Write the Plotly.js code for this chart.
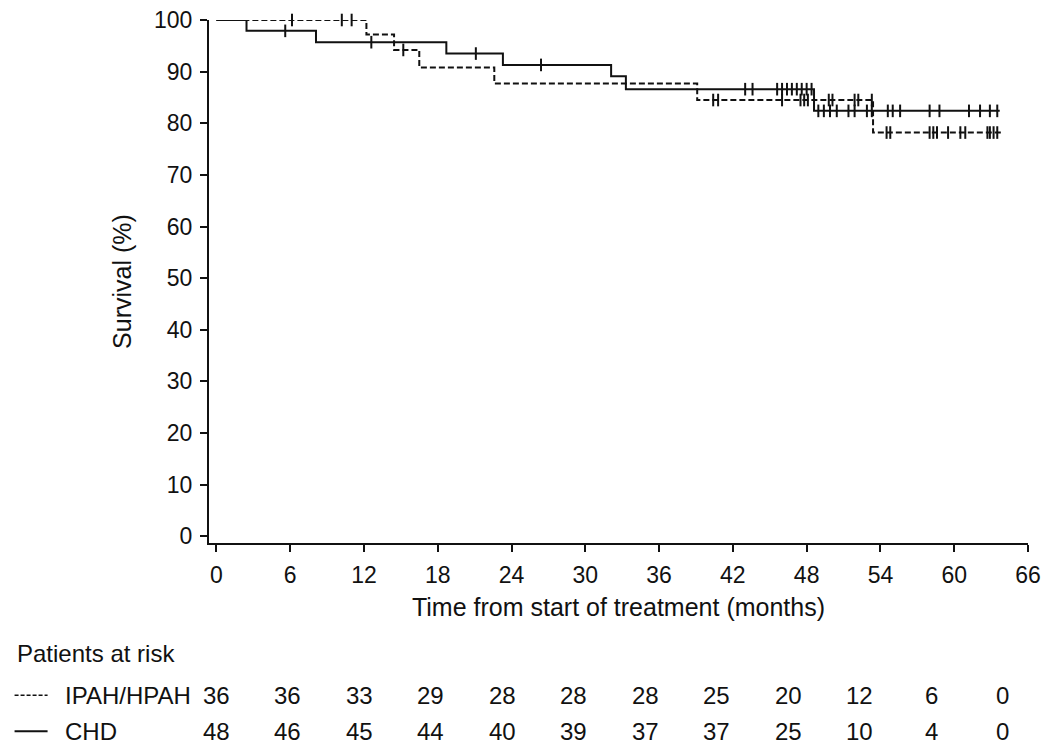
<!DOCTYPE html>
<html>
<head>
<meta charset="utf-8">
<script src="https://cdn.plot.ly/plotly-3.0.1.min.js"></script>
<style>
  html, body { margin: 0; padding: 0; background: #fff; }
  #chart { width: 1050px; height: 750px; }
</style>
</head>
<body>
<div id="chart"></div>
<script>
(function () {
  "use strict";

  // Kaplan-Meier steps (months, survival %)
  var ipahTime = [0, 12.2, 14.45, 16.5, 22.6, 39.1, 53.4, 63.8];
  var ipahSurv = [100, 97.2, 94.2, 90.8, 87.7, 84.5, 78.2, 78.2];
  var ipahCensored = [6.15, 10.2, 11.0, 15.2, 40.4, 40.8, 46.0, 47.5, 47.8, 48.1, 49.8, 50.1, 51.9, 52.2, 53.3,
    54.5, 54.8, 58.0, 58.3, 58.6, 59.5, 60.5, 60.9, 62.7, 62.9, 63.2, 63.5];

  var chdTime = [0, 2.45, 8.1, 18.7, 23.3, 32.1, 33.3, 48.6, 63.7];
  var chdSurv = [100, 97.9, 95.7, 93.5, 91.3, 89.1, 86.6, 82.4, 82.4];
  var chdCensored = [5.6, 12.6, 21.1, 26.4, 43.0, 43.6, 45.6, 46.0, 46.4, 46.8, 47.2, 47.6, 48.0, 48.4,
    48.95, 49.4, 49.9, 50.45, 51.4, 51.9, 52.9, 53.3, 54.6, 55.0, 55.6, 58.0, 58.8, 61.2, 62.1, 62.9, 63.5];

  // patients at risk table
  var riskTimes = [0, 6, 12, 18, 24, 30, 36, 42, 48, 54, 60, 66];
  var riskIpah = [36, 36, 33, 29, 28, 28, 28, 25, 20, 12, 6, 0];
  var riskChd = [48, 46, 45, 44, 40, 39, 37, 37, 25, 10, 4, 0];

  var ink = "#111111";
  var font = "Liberation Sans, Arial, Helvetica, sans-serif";

  function survAt(times, surv, t) {
    var s = surv[0];
    for (var i = 0; i < times.length; i++) if (times[i] <= t) s = surv[i];
    return s;
  }

  var traces = [
    { name: "IPAH/HPAH", x: ipahTime, y: ipahSurv, mode: "lines", line: { shape: "hv", color: ink, width: 2, dash: "6px,3px" }, cliponaxis: false },
    { name: "IPAH/HPAH censored", x: ipahCensored, y: ipahCensored.map(function (t) { return survAt(ipahTime, ipahSurv, t); }),
      mode: "markers", marker: { symbol: "line-ns-open", size: 9, color: ink, line: { width: 2, color: ink } }, cliponaxis: false },
    { name: "CHD", x: chdTime, y: chdSurv, mode: "lines", line: { shape: "hv", color: ink, width: 2 }, cliponaxis: false },
    { name: "CHD censored", x: chdCensored, y: chdCensored.map(function (t) { return survAt(chdTime, chdSurv, t); }),
      mode: "markers", marker: { symbol: "line-ns-open", size: 9, color: ink, line: { width: 2, color: ink } }, cliponaxis: false }
  ];

  var rowY = { head: -0.212, ipah: -0.291, chd: -0.36 };
  var annotations = [
    { text: "Patients at risk", xref: "paper", yref: "paper", x: -0.2374, y: rowY.head, xanchor: "left", yanchor: "middle", showarrow: false },
    { text: "IPAH/HPAH", xref: "paper", yref: "paper", x: -0.1788, y: rowY.ipah, xanchor: "left", yanchor: "middle", showarrow: false },
    { text: "CHD", xref: "paper", yref: "paper", x: -0.1788, y: rowY.chd, xanchor: "left", yanchor: "middle", showarrow: false }
  ];
  riskTimes.forEach(function (t, i) {
    annotations.push({ text: String(riskIpah[i]), xref: "x2", yref: "paper", x: t, y: rowY.ipah, showarrow: false, yanchor: "middle" });
    annotations.push({ text: String(riskChd[i]), xref: "x2", yref: "paper", x: t, y: rowY.chd, showarrow: false, yanchor: "middle" });
  });
  annotations.forEach(function (a) { a.font = { size: 24, color: ink, family: font }; });

  var axisCommon = {
    showgrid: false, zeroline: false, showline: true, linecolor: ink, linewidth: 2,
    ticks: "outside", ticklen: 7, tickwidth: 2, tickcolor: ink,
    tickfont: { size: 23, color: ink, family: font }, fixedrange: true
  };

  var layout = {
    width: 1050, height: 750,
    margin: { l: 209, r: 22, t: 20, b: 207 },
    paper_bgcolor: "#fff", plot_bgcolor: "#fff",
    showlegend: false,
    font: { family: font, color: ink },
    xaxis: Object.assign({}, axisCommon, {
      range: [-0.6, 66], tickvals: riskTimes, ticklabelstandoff: 3,
      title: { text: "Time from start of treatment (months)", font: { size: 25, color: ink, family: font }, standoff: 12 }
    }),
    xaxis2: { overlaying: "x", range: [-0.62, 68.1], visible: false, fixedrange: true },
    yaxis: Object.assign({}, axisCommon, {
      range: [-1.3, 100], dtick: 10, tick0: 0, ticklabelstandoff: 3,
      title: { text: "Survival (%)", font: { size: 25, color: ink, family: font }, standoff: 15 }
    }),
    annotations: annotations,
    shapes: [
      { type: "line", xref: "paper", yref: "paper", x0: -0.2374, x1: -0.1971, y0: rowY.ipah, y1: rowY.ipah, line: { color: ink, width: 1.5, dash: "4px,2px" } },
      { type: "line", xref: "paper", yref: "paper", x0: -0.2374, x1: -0.1971, y0: rowY.chd, y1: rowY.chd, line: { color: ink, width: 2 } }
    ]
  };

  Plotly.newPlot("chart", traces, layout, { displayModeBar: false, staticPlot: true });
}());
</script>
</body>
</html>
